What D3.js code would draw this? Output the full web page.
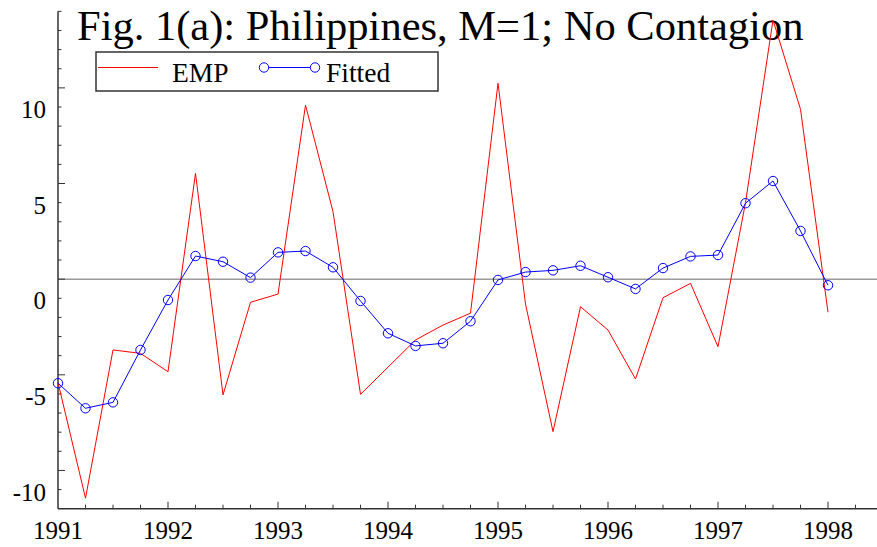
<!DOCTYPE html>
<html><head><meta charset="utf-8">
<script src="https://cdn.jsdelivr.net/npm/d3@7"></script>
<style>html,body{margin:0;padding:0;background:#fff;}svg{display:block;}</style>
</head><body>
<svg id="chart" width="877" height="547"></svg>
<script>
const title = "Fig. 1(a): Philippines, M=1; No Contagion";
const startYear = 1991;
const periodsPerYear = 4;
const emp = [-4.4, -10.45, -2.7, -2.88, -3.84, 6.53, -5.05, -0.21, 0.22, 10.1, 4.53, -5.02, -3.6, -2.18, -1.4, -0.78, 11.24, -0.3, -6.97, -0.44, -1.66, -4.22, 0.03, 0.78, -2.53, 5.0, 14.55, 9.88, -0.73];
const fitted = [-4.44, -5.75, -5.44, -2.7, -0.09, 2.21, 1.91, 1.08, 2.4, 2.47, 1.62, -0.14, -1.83, -2.49, -2.35, -1.2, 0.96, 1.37, 1.46, 1.7, 1.1, 0.49, 1.58, 2.19, 2.26, 4.97, 6.13, 3.52, 0.68];
const yearTicks = [1991, 1992, 1993, 1994, 1995, 1996, 1997, 1998];
const yLabels = [-10, -5, 0, 5, 10];
const yMajorTicks = [-9, -4, 1, 6, 11];
const referenceLevel = 1;
const legendLabels = ["EMP", "Fitted"];

const svg = d3.select("#chart");
const font = "'Liberation Serif','Times New Roman',serif";
const x = d3.scaleLinear().domain([1991, 1998.4454]).range([58, 877]);
const y = d3.scaleLinear().domain([-11, 15]).range([508.7, 11.35]);
const t = i => startYear + i / periodsPerYear;

// reference line
svg.append("line").attr("x1", x(1991)).attr("x2", 877)
  .attr("y1", y(referenceLevel)).attr("y2", y(referenceLevel))
  .attr("stroke", "#9a9a9a").attr("stroke-width", 1.5);

// axes
const axisColor = "#333";
svg.append("line").attr("x1", x(1991)).attr("x2", x(1991)).attr("y1", y(15)).attr("y2", y(-11))
  .attr("stroke", axisColor).attr("stroke-width", 1.5);
svg.append("line").attr("x1", x(1991)).attr("x2", 877).attr("y1", y(-11)).attr("y2", y(-11))
  .attr("stroke", axisColor).attr("stroke-width", 1.5);

// y ticks
const yMinor = d3.range(-10, 16);
svg.append("g").selectAll("line").data(yMinor).join("line")
  .attr("x1", x(1991)).attr("x2", d => x(1991) + (yMajorTicks.includes(d) ? 7 : 3.5))
  .attr("y1", d => y(d)).attr("y2", d => y(d))
  .attr("stroke", axisColor).attr("stroke-width", 1);
svg.append("g").selectAll("text").data(yLabels).join("text")
  .attr("x", 46).attr("y", d => y(d) + 11)
  .attr("text-anchor", "end").attr("font-family", font).attr("font-size", 25)
  .text(d => d);

// x ticks
const quarters = d3.range(0, 30).map(t);
svg.append("g").selectAll("line").data(quarters.slice(1)).join("line")
  .attr("x1", d => x(d)).attr("x2", d => x(d))
  .attr("y1", y(-11)).attr("y2", (d, i) => y(-11) - ((i + 1) % 4 === 0 ? 7 : 4))
  .attr("stroke", axisColor).attr("stroke-width", 1);
svg.append("g").selectAll("text").data(yearTicks).join("text")
  .attr("x", d => x(d)).attr("y", 539)
  .attr("text-anchor", "middle").attr("font-family", font).attr("font-size", 25)
  .text(d => d);

// title
svg.append("text").attr("x", 77).attr("y", 40)
  .attr("font-family", font).attr("font-size", 42.5).attr("fill", "#000").text(title);

// series
const line = d3.line().x((d, i) => x(t(i))).y(d => y(d));
svg.append("path").datum(emp).attr("d", line).attr("fill", "none")
  .attr("stroke", "#ff0000").attr("stroke-width", 1);
svg.append("path").datum(fitted).attr("d", line).attr("fill", "none")
  .attr("stroke", "#0000ff").attr("stroke-width", 1);
svg.append("g").selectAll("circle").data(fitted).join("circle")
  .attr("cx", (d, i) => x(t(i))).attr("cy", d => y(d)).attr("r", 4.7)
  .attr("fill", "none").attr("stroke", "#0000ff").attr("stroke-width", 1);

// legend
const lg = svg.append("g");
lg.append("rect").attr("x", 96).attr("y", 52).attr("width", 342).attr("height", 39)
  .attr("fill", "#fff").attr("stroke", "#333").attr("stroke-width", 1.5);
lg.append("line").attr("x1", 98).attr("x2", 158).attr("y1", 67.5).attr("y2", 67.5)
  .attr("stroke", "#ff0000").attr("stroke-width", 1);
lg.append("text").attr("x", 172).attr("y", 82).attr("font-family", font).attr("font-size", 27.5).text(legendLabels[0]);
lg.append("line").attr("x1", 264).attr("x2", 315).attr("y1", 67.5).attr("y2", 67.5)
  .attr("stroke", "#0000ff").attr("stroke-width", 1);
lg.selectAll("circle.lc").data([264, 315]).join("circle").attr("class", "lc")
  .attr("cx", d => d).attr("cy", 67.5).attr("r", 4.7)
  .attr("fill", "#fff").attr("stroke", "#0000ff").attr("stroke-width", 1);
lg.append("text").attr("x", 326).attr("y", 82).attr("font-family", font).attr("font-size", 27.5).text(legendLabels[1]);
</script>
</body></html>
